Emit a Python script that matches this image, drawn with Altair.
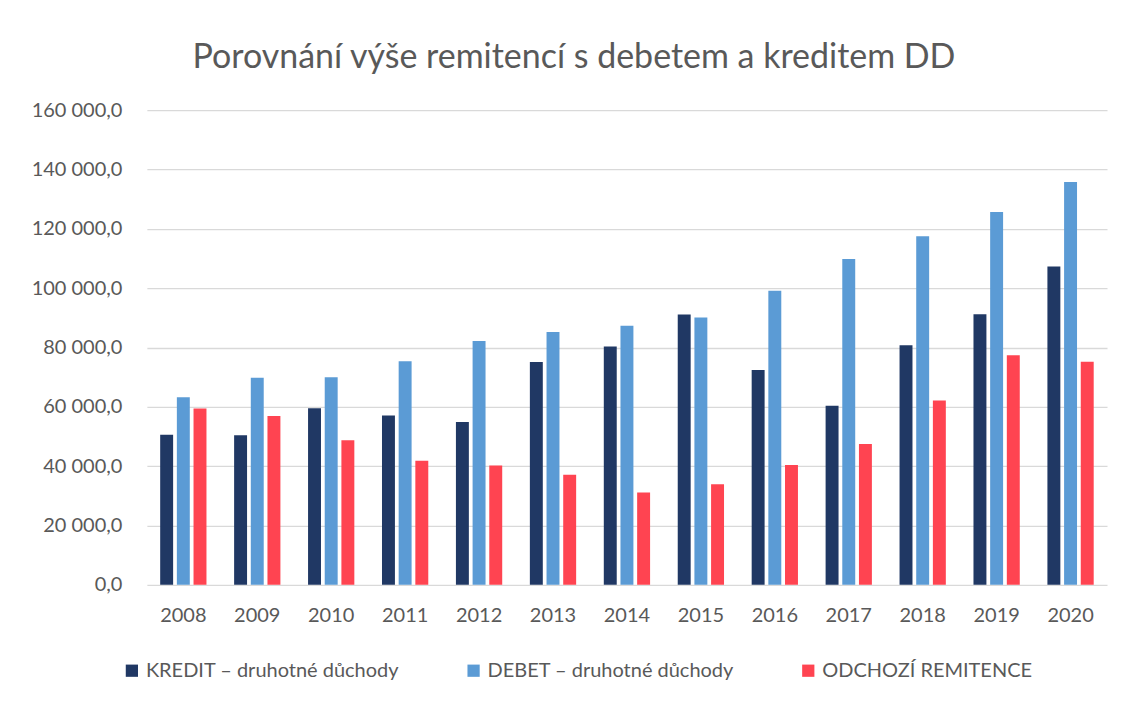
import altair as alt
import pandas as pd

years = [str(y) for y in range(2008, 2021)]
series = ["KREDIT – druhotné důchody", "DEBET – druhotné důchody", "ODCHOZÍ REMITENCE"]
kredit = [50600, 50400, 59500, 57100, 54900, 75100, 80300, 91100, 72400, 60400, 80800, 91200, 107300]
debet = [63200, 69800, 70000, 75400, 82200, 85200, 87300, 90100, 99100, 109800, 117500, 125700, 135800]
odchozi = [59400, 56900, 48700, 41800, 40200, 37100, 31100, 33900, 40400, 47500, 62100, 77400, 75200]
colors = ["#203864", "#5b9bd5", "#ff4451"]

rows = []
for name, vals in zip(series, [kredit, debet, odchozi]):
    for y, v in zip(years, vals):
        rows.append({"rok": y, "rada": name, "hodnota": v})
df = pd.DataFrame(rows)

FONT = "Lato"
GREY = "#595959"

chart = alt.Chart(df).mark_bar().encode(
    x=alt.X("rok:N", sort=years, title=None,
            scale=alt.Scale(paddingInner=0.374, paddingOuter=0.18),
            axis=alt.Axis(labelAngle=0, labelFontSize=20, labelColor=GREY, labelFont=FONT,
                          ticks=False, domain=False, labelPadding=21)),
    xOffset=alt.XOffset("rada:N", sort=series, scale=alt.Scale(paddingInner=0.224)),
    y=alt.Y("hodnota:Q", title=None,
            scale=alt.Scale(domain=[0, 160000]),
            axis=alt.Axis(values=list(range(0, 160001, 20000)), labelFontSize=20, labelColor=GREY,
                          labelFont=FONT, ticks=False, domain=False, labelPadding=25,
                          gridColor="#d9d9d9", gridWidth=1.3,
                          labelExpr="replace(replace(format(datum.value, ',.1f'), ',', ' '), '.', ',')")),
    color=alt.Color("rada:N", sort=series,
                    scale=alt.Scale(domain=series, range=colors),
                    legend=alt.Legend(title=None, orient="none", direction="horizontal",
                                      legendX=-25, legendY=551, symbolType="square",
                                      symbolSize=150, symbolStrokeWidth=0, labelFontSize=20,
                                      labelColor=GREY, labelFont=FONT, columnPadding=64,
                                      labelOffset=4, labelLimit=400)),
).properties(
    width=961,
    height=475,
    title=alt.TitleParams("Porovnání výše remitencí s debetem a kreditem DD", fontSize=34,
                          font=FONT, fontWeight="normal", color=GREY, anchor="middle",
                          dx=-53, offset=25),
    autosize=alt.AutoSizeParams(type="none"),
    padding={"left": 139, "top": 102, "right": 10, "bottom": 100},
).configure_view(stroke=None).configure_axisX(grid=False)

chart.save("out.html", embed_options={"renderer": "svg", "actions": False})
